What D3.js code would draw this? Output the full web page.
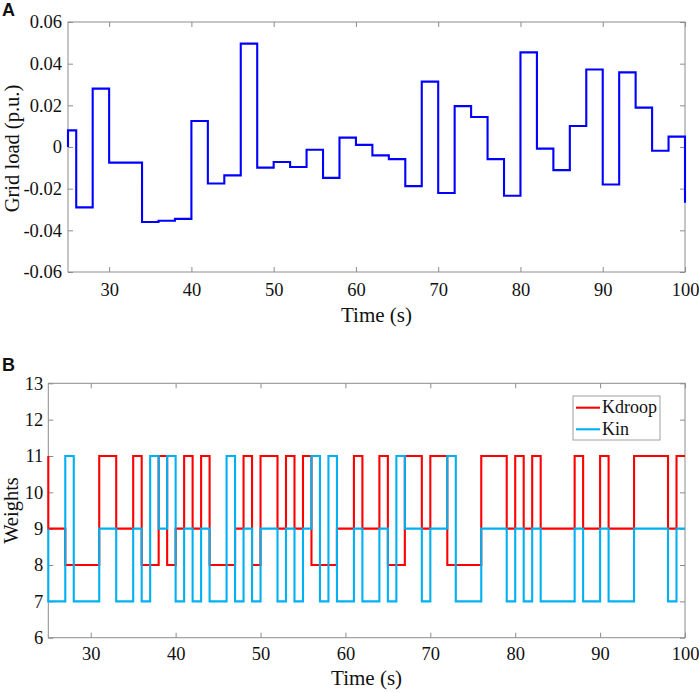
<!DOCTYPE html>
<html>
<head>
<meta charset="utf-8">
<script src="https://cdn.jsdelivr.net/npm/d3@7"></script>
<style>
  html, body { margin: 0; padding: 0; background: #fff; }
  svg { display: block; }
  text { font-family: "Liberation Serif", "Times New Roman", serif; fill: #111; }
  .panel-letter { font-family: "Liberation Sans", Arial, sans-serif; font-weight: bold; }
</style>
</head>
<body>
<svg id="chart" width="699" height="693"></svg>
<script>
// ---------- Data ----------
// Panel A: grid load (p.u.), step changes
const timesA = [25, 25, 26, 28, 30, 32, 34, 36, 38, 40, 42, 44, 46, 48, 50, 52, 54, 56, 58, 60,
                62, 64, 66, 68, 70, 72, 74, 76, 78, 80, 82, 84, 86, 88, 90, 92, 94, 96, 98, 100];
const gridLoad = [0, 0.008, -0.029, 0.028, -0.0075, -0.0075, -0.036, -0.0354, -0.0345, 0.0125,
                  -0.0175, -0.0136, 0.0496, -0.0099, -0.0072, -0.0096, -0.0013, -0.0148, 0.0045, 0.001,
                  -0.004, -0.0058, -0.0188, 0.0314, -0.0221, 0.0196, 0.0144, -0.0058, -0.0234, 0.0454,
                  -0.0008, -0.0111, 0.0101, 0.0372, -0.018, 0.0358, 0.0189, -0.0018, 0.005, -0.0268];

// Panel B: weights
const timesKdroop = [25, 25, 27, 31, 33, 35, 36, 38, 39, 40, 41, 42, 43, 44, 47, 48, 49, 50, 52, 53,
                     54, 55, 56, 59, 61, 62, 64, 65, 67, 69, 70, 72, 76, 79, 80, 81, 82, 83, 87, 88,
                     90, 91, 94, 98, 99, 100];
const kdroop = [11, 9, 8, 11, 9, 11, 8, 11, 8, 9, 11, 9, 11, 8, 9, 11, 8, 11, 9, 11,
                9, 11, 8, 9, 11, 9, 11, 8, 11, 9, 11, 8, 11, 9, 11, 9, 11, 9, 11, 9,
                11, 9, 11, 9, 11, 11];
const timesKin = [25, 25, 27, 28, 31, 33, 35, 36, 37, 38, 39, 40, 41, 42, 43, 44, 46, 47, 48, 49,
                  50, 52, 53, 54, 55, 56, 57, 58, 59, 61, 62, 64, 65, 66, 67, 69, 70, 72, 73, 76,
                  79, 80, 81, 82, 83, 87, 88, 90, 91, 94, 98, 99, 100];
const kin = [9, 7, 11, 7, 9, 7, 9, 7, 11, 9, 11, 7, 9, 7, 9, 7, 11, 7, 9, 7,
             9, 7, 9, 7, 9, 11, 7, 11, 7, 9, 7, 9, 7, 11, 9, 7, 9, 11, 7, 9,
             7, 9, 7, 9, 7, 9, 7, 9, 7, 9, 7, 9, 9];

const xTicks = [30, 40, 50, 60, 70, 80, 90, 100];
const yTicksA = [-0.06, -0.04, -0.02, 0, 0.02, 0.04, 0.06];
const yTicksB = [6, 7, 8, 9, 10, 11, 12, 13];
const seriesNames = ["Kdroop", "Kin"];

// ---------- Drawing ----------
const svg = d3.select("#chart");
const axisColor = "#8c8c8c";
const tickFont = 18.5;

function fmtA(v) {
  if (Math.abs(v) < 1e-9) return "0";
  return (v < 0 ? "-" : "") + Math.abs(v).toFixed(2);
}

function drawFrame(g, x, y, yTicks, yFmt, xPad, yPad) {
  const [x0, x1] = x.range();
  const [y0, y1] = y.range();
  g.append("g").attr("transform", `translate(0,${y0})`)
    .call(d3.axisBottom(x).tickValues(xTicks).tickSize(-5).tickPadding(xPad).tickFormat(d3.format("d")))
    .call(s => s.select(".domain").remove());
  g.append("g").attr("transform", `translate(0,${y1})`)
    .call(d3.axisTop(x).tickValues(xTicks).tickSize(-5).tickFormat(""))
    .call(s => s.select(".domain").remove());
  g.append("g").attr("transform", `translate(${x0},0)`)
    .call(d3.axisLeft(y).tickValues(yTicks).tickSize(-5).tickPadding(yPad).tickFormat(yFmt))
    .call(s => s.select(".domain").remove());
  g.append("g").attr("transform", `translate(${x1},0)`)
    .call(d3.axisRight(y).tickValues(yTicks).tickSize(-5).tickFormat(""))
    .call(s => s.select(".domain").remove());
  g.selectAll(".tick line").attr("stroke", axisColor).attr("stroke-width", 1);
  g.selectAll(".tick text")
    .attr("font-family", "Liberation Serif, Times New Roman, serif")
    .attr("font-size", tickFont).attr("fill", "#111");
  g.append("rect")
    .attr("x", x0).attr("y", y1).attr("width", x1 - x0).attr("height", y0 - y1)
    .attr("fill", "none").attr("stroke", axisColor).attr("stroke-width", 1);
}

// Panel A
const xA = d3.scaleLinear().domain([25, 100]).range([68, 685]);
const yA = d3.scaleLinear().domain([-0.06, 0.06]).range([272, 22]);
const gA = svg.append("g");
drawFrame(gA, xA, yA, yTicksA, fmtA, 11, 6);

const lineA = d3.line().curve(d3.curveStepAfter)
  .x((d, i) => xA(timesA[i])).y(d => yA(d));
gA.append("path").datum(gridLoad)
  .attr("d", lineA).attr("fill", "none").attr("stroke", "#0000ff")
  .attr("stroke-width", 2.1).attr("stroke-linejoin", "miter");

gA.append("text").attr("x", 376.5).attr("y", 321.5).attr("text-anchor", "middle")
  .attr("font-size", 21).text("Time (s)");
gA.append("text").attr("transform", "translate(18.5,148.5) rotate(-90)").attr("text-anchor", "middle")
  .attr("font-size", 20.5).text("Grid load (p.u.)");
svg.append("text").attr("class", "panel-letter").attr("x", 2).attr("y", 16)
  .attr("font-size", 18).text("A");

// Panel B
const xB = d3.scaleLinear().domain([25, 100]).range([48.3, 685]);
const yB = d3.scaleLinear().domain([6, 13]).range([637.7, 383.3]);
const gB = svg.append("g");
drawFrame(gB, xB, yB, yTicksB, d3.format("d"), 9, 5);

const colorsB = ["#ff0000", "#00b0f0"];
const dataB = [[timesKdroop, kdroop], [timesKin, kin]];
dataB.forEach(([ts, vs], k) => {
  const line = d3.line().curve(d3.curveStepAfter)
    .x((d, i) => xB(ts[i])).y(d => yB(d));
  gB.append("path").datum(vs)
    .attr("d", line).attr("fill", "none").attr("stroke", colorsB[k])
    .attr("stroke-width", 2.1).attr("stroke-linejoin", "miter");
});

gB.append("text").attr("x", 366.6).attr("y", 685).attr("text-anchor", "middle")
  .attr("font-size", 21).text("Time (s)");
gB.append("text").attr("transform", "translate(18,510.5) rotate(-90)").attr("text-anchor", "middle")
  .attr("font-size", 20.5).text("Weights");
svg.append("text").attr("class", "panel-letter").attr("x", 2).attr("y", 371)
  .attr("font-size", 18).text("B");

// Legend
const leg = gB.append("g");
leg.append("rect").attr("x", 573).attr("y", 396).attr("width", 87).attr("height", 44)
  .attr("fill", "#fff").attr("stroke", "#a0a0a0").attr("stroke-width", 1);
seriesNames.forEach((name, k) => {
  const cy = 407.7 + k * 21.6;
  leg.append("line").attr("x1", 576).attr("x2", 600).attr("y1", cy).attr("y2", cy)
    .attr("stroke", colorsB[k]).attr("stroke-width", 2.1);
  leg.append("text").attr("x", 602).attr("y", cy + 5.5).attr("font-size", 18).text(name);
});
</script>
</body>
</html>
